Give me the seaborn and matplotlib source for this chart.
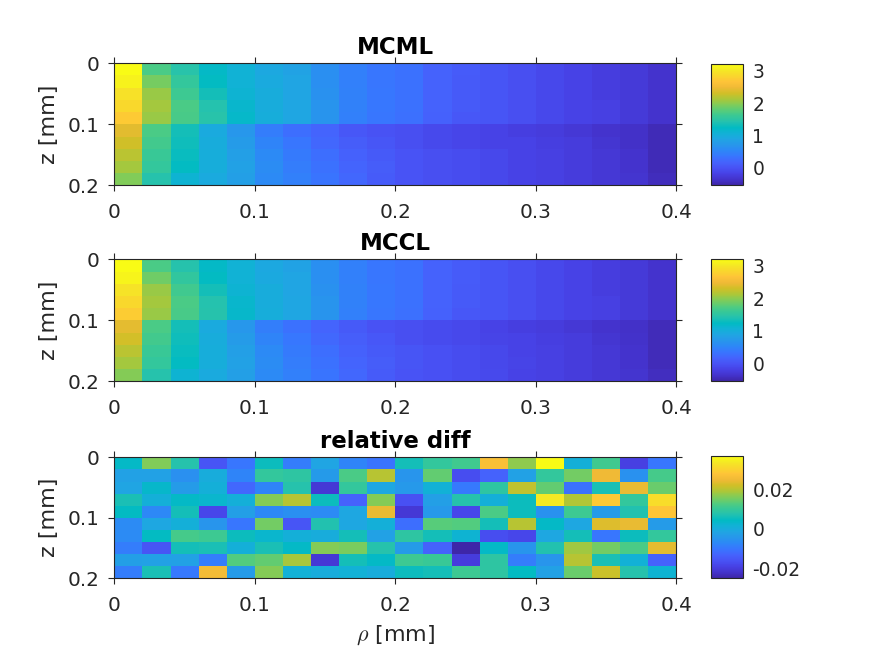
import numpy as np
import pandas as pd
import seaborn as sns
import matplotlib
matplotlib.use('Agg')
import matplotlib.pyplot as plt
from matplotlib.colors import LinearSegmentedColormap

# log fluence, rows are z bins and columns are rho bins
mcml = [
    [3.20, 1.70, 1.45, 1.22, 1.07, 0.92, 0.85, 0.62, 0.45, 0.35, 0.30, 0.16, 0.08, 0.02, -0.05, -0.12, -0.17, -0.24, -0.28, -0.35],
    [3.10, 1.90, 1.55, 1.25, 1.07, 0.95, 0.88, 0.62, 0.45, 0.35, 0.30, 0.16, 0.07, 0.02, -0.05, -0.12, -0.17, -0.24, -0.28, -0.35],
    [2.95, 2.05, 1.63, 1.33, 1.10, 0.98, 0.88, 0.65, 0.47, 0.36, 0.30, 0.16, 0.07, 0.02, -0.05, -0.12, -0.17, -0.24, -0.28, -0.35],
    [2.85, 2.10, 1.70, 1.42, 1.16, 0.98, 0.90, 0.67, 0.47, 0.37, 0.30, 0.16, 0.07, 0.02, -0.05, -0.12, -0.17, -0.20, -0.28, -0.35],
    [2.72, 2.05, 1.68, 1.45, 1.18, 1.00, 0.90, 0.68, 0.45, 0.35, 0.29, 0.15, 0.05, 0.01, -0.05, -0.12, -0.17, -0.20, -0.28, -0.35],
    [2.40, 1.70, 1.33, 0.95, 0.70, 0.42, 0.28, 0.17, 0.05, -0.02, -0.05, -0.10, -0.14, -0.17, -0.22, -0.25, -0.30, -0.35, -0.38, -0.47],
    [2.30, 1.65, 1.30, 0.98, 0.76, 0.50, 0.35, 0.20, 0.10, 0.03, -0.05, -0.10, -0.14, -0.17, -0.17, -0.22, -0.25, -0.33, -0.38, -0.47],
    [2.20, 1.60, 1.27, 1.00, 0.80, 0.55, 0.40, 0.28, 0.15, 0.07, 0.00, -0.04, -0.07, -0.12, -0.17, -0.20, -0.25, -0.30, -0.35, -0.47],
    [2.10, 1.55, 1.25, 1.00, 0.84, 0.58, 0.42, 0.30, 0.18, 0.10, 0.00, -0.04, -0.07, -0.12, -0.17, -0.20, -0.25, -0.30, -0.35, -0.47],
    [1.95, 1.43, 1.10, 0.95, 0.80, 0.55, 0.45, 0.33, 0.20, 0.09, 0.00, -0.04, -0.07, -0.12, -0.17, -0.20, -0.25, -0.30, -0.34, -0.44],
]

mccl = [
    [3.20, 1.70, 1.44, 1.22, 1.07, 0.92, 0.85, 0.62, 0.45, 0.35, 0.30, 0.16, 0.08, 0.02, -0.05, -0.12, -0.17, -0.23, -0.28, -0.35],
    [3.12, 1.88, 1.54, 1.25, 1.07, 0.94, 0.88, 0.62, 0.45, 0.35, 0.30, 0.16, 0.08, 0.02, -0.05, -0.12, -0.17, -0.23, -0.28, -0.35],
    [2.96, 2.05, 1.64, 1.33, 1.10, 0.98, 0.88, 0.65, 0.47, 0.36, 0.30, 0.16, 0.07, 0.02, -0.05, -0.12, -0.17, -0.23, -0.28, -0.35],
    [2.86, 2.10, 1.70, 1.42, 1.16, 0.98, 0.90, 0.67, 0.47, 0.37, 0.30, 0.16, 0.07, 0.02, -0.05, -0.12, -0.17, -0.20, -0.28, -0.35],
    [2.74, 2.05, 1.68, 1.44, 1.17, 1.00, 0.90, 0.68, 0.45, 0.35, 0.29, 0.15, 0.05, 0.01, -0.05, -0.12, -0.17, -0.20, -0.28, -0.35],
    [2.42, 1.70, 1.33, 0.95, 0.70, 0.44, 0.30, 0.18, 0.07, -0.01, -0.05, -0.09, -0.12, -0.17, -0.22, -0.25, -0.30, -0.35, -0.38, -0.46],
    [2.32, 1.65, 1.30, 0.98, 0.76, 0.50, 0.37, 0.22, 0.11, 0.04, -0.04, -0.09, -0.12, -0.16, -0.17, -0.22, -0.25, -0.33, -0.37, -0.46],
    [2.20, 1.60, 1.27, 1.00, 0.80, 0.55, 0.40, 0.28, 0.15, 0.07, 0.01, -0.03, -0.07, -0.12, -0.17, -0.20, -0.25, -0.30, -0.35, -0.46],
    [2.10, 1.55, 1.25, 1.00, 0.84, 0.58, 0.42, 0.30, 0.18, 0.10, 0.01, -0.03, -0.07, -0.12, -0.16, -0.20, -0.25, -0.30, -0.35, -0.45],
    [1.96, 1.43, 1.10, 0.95, 0.80, 0.55, 0.45, 0.33, 0.20, 0.09, 0.00, -0.03, -0.07, -0.11, -0.17, -0.20, -0.25, -0.30, -0.34, -0.43],
]

# relative difference, in units of 1e-3
rel_diff_e3 = [
    [4.0, 16.0, 7.7, -15.7, -10.2, 5.2, -9.0, -1.6, -7.7, -10.5, 5.9, 9.6, 11.1, 26.8, 17.0, 36.7, 0.9, 11.1, -19.4, -10.2],
    [-2.2, -2.2, -5.6, 0.3, -7.7, 9.6, 8.9, -3.7, 12.0, 20.0, -4.6, 13.9, -17.0, -13.3, -2.2, 9.6, 15.1, 25.0, -5.3, 11.4],
    [-1.6, 3.4, -3.4, 0.9, -12.7, -7.7, 7.7, -20.7, 9.6, -0.9, -4.0, 1.5, -9.6, 8.9, 20.7, 13.9, -10.8, 6.5, 24.4, 14.5],
    [6.5, 0.9, 4.0, 2.8, 0.9, 16.3, 20.0, 5.2, -13.3, 16.3, -16.4, -2.8, 7.7, 0.9, 5.2, 33.6, 19.4, 28.7, 9.6, 31.8],
    [4.6, -7.1, 5.9, -18.2, -2.8, -7.1, -5.9, -6.5, -0.9, 24.4, -20.7, -4.0, -18.2, 12.0, 5.2, -5.3, 10.8, -3.4, 7.1, 28.1],
    [-6.5, -0.9, 0.9, -4.6, -10.2, 15.1, -15.7, 7.1, -0.9, 0.9, -11.4, 13.3, 12.6, 5.9, 20.0, 4.0, -0.9, 23.1, 24.4, -3.4],
    [-6.5, 4.6, 11.4, 10.8, 5.2, 2.8, 0.9, 0.3, 5.9, -2.2, 8.9, 5.9, 2.1, -17.0, -18.2, -0.9, 5.9, -10.2, 5.2, 9.6],
    [-9.0, -15.7, 5.9, 6.5, 0.9, 6.5, 4.0, 16.3, 15.7, 7.7, -3.4, -13.3, -25.0, 4.0, -4.6, 7.1, 18.2, 15.1, 12.0, 23.7],
    [-2.8, -2.2, -2.2, -9.0, 12.6, 13.9, 18.8, -20.7, 5.9, 4.0, 10.8, 10.2, -20.1, 8.9, -9.0, -4.6, 20.0, 6.5, 1.5, -13.3],
    [-9.0, 6.5, -9.6, 25.6, -3.4, 16.3, 1.5, 0.3, 1.5, 0.3, 5.2, 5.9, 10.8, 8.9, 4.6, -2.2, 14.5, 21.3, 7.7, 2.1],
]

titles = ['MCML', 'MCCL', 'relative diff']
x_ticks = [0, 5, 10, 15, 20]
x_labels = ['0', '0.1', '0.2', '0.3', '0.4']
y_ticks = [0, 5, 10]
y_labels = ['0', '0.1', '0.2']
cbar_ticks = [[0, 1, 2, 3], [0, 1, 2, 3], [-0.02, 0, 0.02]]
cbar_labels = [['0', '1', '2', '3'], ['0', '1', '2', '3'], ['-0.02', '0', '0.02']]
limits = [(-0.55, 3.2), (-0.55, 3.2), (-0.025, 0.0367)]

# old MATLAB parula, sampled
parula = LinearSegmentedColormap.from_list('parula', [
    (0.2422, 0.1504, 0.6603), (0.2647, 0.1978, 0.7952), (0.2783, 0.2559, 0.8991),
    (0.2810, 0.3228, 0.9579), (0.2699, 0.3892, 0.9906), (0.2206, 0.4603, 0.9973),
    (0.1786, 0.5289, 0.9682), (0.1540, 0.5902, 0.9218), (0.1248, 0.6459, 0.8883),
    (0.0689, 0.6948, 0.8394), (0.0067, 0.7312, 0.7660), (0.1408, 0.7584, 0.6842),
    (0.2161, 0.7843, 0.5923), (0.3406, 0.8008, 0.4789), (0.5044, 0.7993, 0.3480),
    (0.6720, 0.7793, 0.2227), (0.8203, 0.7498, 0.1535), (0.9393, 0.7288, 0.2100),
    (0.9970, 0.7659, 0.2199), (0.9786, 0.8386, 0.1766), (0.9597, 0.9135, 0.1423),
    (0.9769, 0.9839, 0.0805),
], N=256)

sns.set_theme(style='white')
plt.rcParams['font.family'] = 'DejaVu Sans'
plt.rcParams['mathtext.fontset'] = 'cm'

W, H = 875, 656
dark = '#262626'
tick_size = 14.4
cbar_size = 13.4


def box(left, top, right, bottom):
    return [left / W, 1 - bottom / H, (right - left) / W, (bottom - top) / H]


fig = plt.figure(figsize=(W / 100, H / 100), dpi=100)
panels = [np.array(mcml), np.array(mccl), np.array(rel_diff_e3) * 1e-3]
ax_boxes = [(114.3, 63.3, 676.3, 185.3), (114.3, 259.3, 676.3, 381.3), (114.3, 457.3, 676.3, 578.3)]
cax_boxes = [(710.5, 64.3, 743.3, 185.3), (710.5, 259.3, 743.3, 381.3), (710.5, 456.3, 743.3, 578.3)]

for i, values in enumerate(panels):
    ax = fig.add_axes(box(*ax_boxes[i]))
    cax = fig.add_axes(box(*cax_boxes[i]))
    sns.heatmap(pd.DataFrame(values), ax=ax, cbar_ax=cax, cmap=parula,
                vmin=limits[i][0], vmax=limits[i][1], xticklabels=False, yticklabels=False,
                cbar_kws={'ticks': cbar_ticks[i]})

    ax.set_xticks(x_ticks)
    ax.set_xticklabels(x_labels, rotation=0)
    ax.set_yticks(y_ticks)
    ax.set_yticklabels(y_labels, rotation=0)
    ax.tick_params(direction='out', length=4.5, width=0.8, color=dark, labelcolor=dark,
                   labelsize=tick_size, top=True, right=True, bottom=True, left=True)
    ax.tick_params(axis='x', pad=8.5)
    ax.tick_params(axis='y', pad=6.5)
    for spine in ax.spines.values():
        spine.set_visible(True)
        spine.set_color(dark)
        spine.set_linewidth(0.8)
    ax.set_title(titles[i], fontsize=16.5, fontweight='bold', color='black', pad=6.5)
    ax.set_ylabel('z [mm]', fontsize=16, color=dark, labelpad=6)
    ax.set_xlabel('')

    cbar = ax.collections[0].colorbar
    cbar.set_ticklabels(cbar_labels[i])
    cax.tick_params(direction='in', length=2, width=0.8, color=dark, labelcolor=dark,
                    labelsize=cbar_size, right=True, left=False, pad=6.5)
    cbar.outline.set_visible(True)
    cbar.outline.set_edgecolor(dark)
    cbar.outline.set_linewidth(0.8)

ax.set_xlabel(r'$\rho$ [mm]', fontsize=16, color=dark, labelpad=6)

fig.savefig('out.png', dpi=100)
